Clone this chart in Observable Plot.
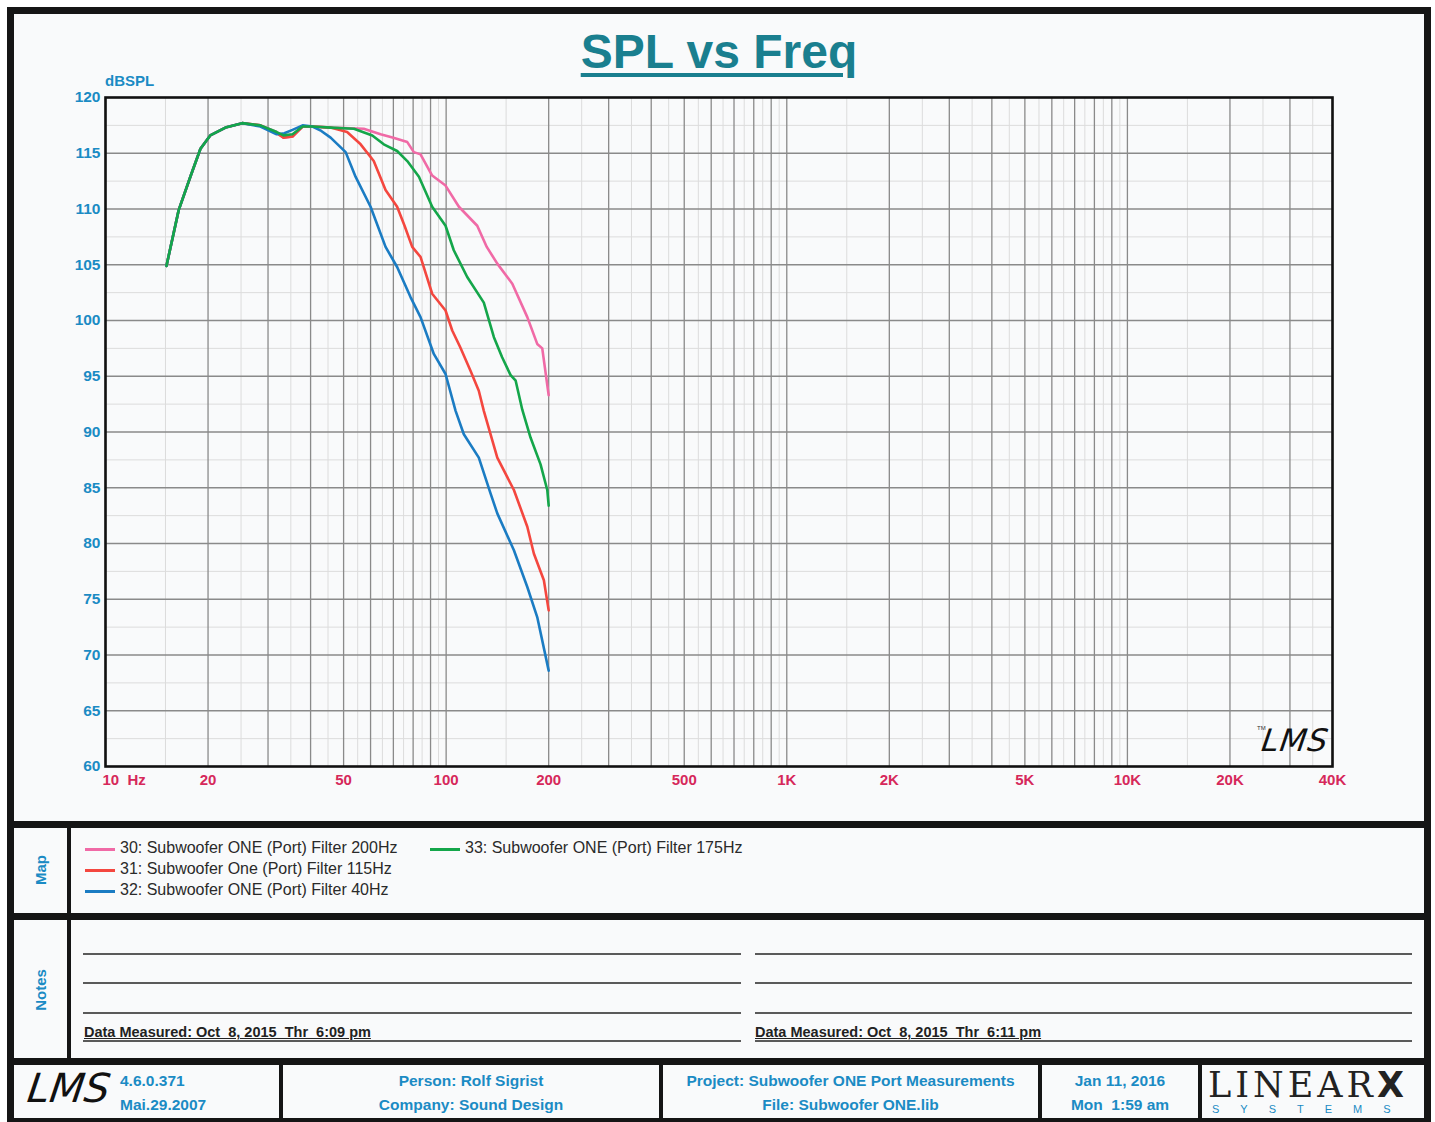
<!DOCTYPE html>
<html>
<head>
<meta charset="utf-8">
<script src="https://cdn.jsdelivr.net/npm/d3@7"></script>
<script src="https://cdn.jsdelivr.net/npm/@observablehq/plot@0.6"></script>
<style>
  html, body { margin:0; padding:0; background:#ffffff; }
  #page { position:relative; width:1435px; height:1122px; overflow:hidden; font-family: Arial, "Liberation Sans", sans-serif; background:#fff; }
  .abs { position:absolute; }
  .bar { position:absolute; background:#151515; }
  .blue { color:#1b8bc4; font-weight:bold; }
  #chart { position:absolute; left:0; top:0; }
  .leg { position:absolute; font-size:16px; color:#2a2a2a; white-space:nowrap; }
  .sw { position:absolute; height:3px; width:30px; }
  .nline { position:absolute; height:1.5px; background:#5a5a5a; }
  .meas { position:absolute; font-size:14.5px; font-weight:bold; color:#222; text-decoration:underline; white-space:nowrap; }
  .foot { position:absolute; font-size:15.5px; font-weight:bold; color:#1b8bc4; text-align:center; white-space:nowrap; }
</style>
</head>
<body>
<div id="page"></div>
<script>
// ---------------- data ----------------
const seriesNames = [
  "30: Subwoofer ONE (Port) Filter 200Hz",
  "31: Subwoofer One (Port) Filter 115Hz",
  "32: Subwoofer ONE (Port) Filter 40Hz",
  "33: Subwoofer ONE (Port) Filter 175Hz"
];
const seriesColors = ["#f06aa6", "#f4473f", "#1b7cc3", "#14a64a"];

const pinkF  = [15.1,16.4,17.8,19.0,20.3,22.5,25.2,28.5,31.8,33.3,35.4,37.9,40.5,45.8,57.3,64.2,70.0,76.9,80.4,84.1,91.0,99.6,109.0,123.4,131.6,141.3,156.4,173.1,185.1,191.5,200];
const pinkDb = [104.9,109.9,113.0,115.4,116.6,117.3,117.7,117.5,116.9,116.4,116.5,117.4,117.4,117.3,117.2,116.7,116.4,116.0,115.1,114.9,113.0,112.1,110.2,108.5,106.6,105.1,103.3,100.3,97.9,97.5,93.3];

const redF  = [15.1,16.4,17.8,19.0,20.3,22.5,25.2,28.5,31.8,33.3,35.4,37.9,40.5,45.8,51.2,56.1,61.3,66.4,71.8,75.5,79.5,84.1,91.0,99.6,104.2,110.0,117.9,124.7,129.0,141.3,158.1,173.1,180.9,193.6,200];
const redDb = [104.9,109.9,113.0,115.4,116.6,117.3,117.7,117.5,116.8,116.4,116.5,117.4,117.4,117.3,116.9,115.8,114.3,111.7,110.2,108.5,106.6,105.7,102.4,100.9,99.1,97.6,95.5,93.7,91.9,87.7,84.8,81.5,79.1,76.7,74.0];

const blueF  = [15.1,16.4,17.8,19.0,20.3,22.5,25.2,28.5,31.8,33.5,35.4,37.9,40.5,43.0,45.8,50.7,54.2,60.0,66.4,71.8,78.6,84.1,92.0,99.6,106.6,112.7,124.7,135.0,141.3,158.1,173.1,185.1,200];
const blueDb = [104.9,109.9,113.0,115.4,116.6,117.3,117.7,117.4,116.7,116.8,117.1,117.5,117.4,117.0,116.4,115.1,112.9,110.2,106.6,104.8,102.1,100.3,97.0,95.2,91.9,89.8,87.7,84.5,82.7,79.4,76.1,73.4,68.6];

const greenF  = [15.1,16.4,17.8,19.0,20.3,22.5,25.2,28.5,31.8,33.3,35.4,37.9,40.5,45.8,53.6,60.7,65.6,71.8,76.9,83.2,91.0,99.6,105.3,115.3,129.0,138.1,146.0,154.6,160.0,167.3,176.9,189.3,198.1,200];
const greenDb = [104.9,109.9,113.0,115.4,116.6,117.3,117.7,117.5,116.9,116.6,116.7,117.4,117.4,117.3,117.2,116.6,115.8,115.2,114.3,112.9,110.2,108.5,106.3,103.9,101.6,98.5,96.7,95.1,94.6,92.0,89.5,87.1,84.8,83.4];

const xTicks  = [10,20,50,100,200,500,1000,2000,5000,10000,20000,40000];
const xLabels = ["10\u00a0\u00a0Hz","20","50","100","200","500","1K","2K","5K","10K","20K","40K"];
const yTicks  = [60,65,70,75,80,85,90,95,100,105,110,115,120];

// ---------------- build rows ----------------
const freqSets = [pinkF, redF, blueF, greenF];
const dbSets = [pinkDb, redDb, blueDb, greenDb];
const rows = [];
seriesNames.forEach((s, i) => freqSets[i].forEach((f, j) => rows.push({series: s, f, db: dbSets[i][j]})));

// grid positions (log grid: k*10^n and (k+.5)*10^n)
const majorF = [], minorF = [];
for (const d of [10,100,1000,10000]) {
  for (let k = 1; k <= 9; k++) {
    if (k*d <= 40000) majorF.push(k*d);
    if ((k+0.5)*d < 40000) minorF.push((k+0.5)*d);
  }
}
const majorDb = d3.range(65, 120, 5);
const minorDb = d3.range(62.5, 120, 5);

const xTickRows = xTicks.map((t, i) => ({f: t, label: xLabels[i]}));

const chart = Plot.plot({
  width: 1435, height: 800,
  marginLeft: 105, marginRight: 103, marginTop: 97, marginBottom: 34,
  x: {type: "log", domain: [10, 40000], axis: null},
  y: {domain: [60, 120], axis: null},
  color: {domain: seriesNames, range: seriesColors},
  style: {background: "transparent", fontFamily: "Arial, 'Liberation Sans', sans-serif"},
  marks: [
    Plot.ruleX(minorF, {stroke: "#dcdcdc", strokeWidth: 1}),
    Plot.ruleY(minorDb, {stroke: "#dcdcdc", strokeWidth: 1}),
    Plot.ruleX(majorF, {stroke: "#8a8a8a", strokeWidth: 1.3}),
    Plot.ruleY(majorDb, {stroke: "#8a8a8a", strokeWidth: 1.3}),
    Plot.line(rows, {x: "f", y: "db", z: "series", stroke: "series", strokeWidth: 2.6, curve: "linear"}),
    Plot.frame({stroke: "#111", strokeWidth: 2.6}),
    Plot.axisY({ticks: yTicks, tickSize: 0, tickPadding: 5, color: "#1b8bc4", fontSize: 15.5, fontWeight: "bold", label: null}),
    Plot.text(xTickRows.slice(1), {x: "f", text: "label", frameAnchor: "bottom", dy: 18, fill: "#d6285a", fontSize: 15, fontWeight: "bold"}),
    Plot.text(xTickRows.slice(0, 1), {x: "f", text: "label", frameAnchor: "bottom", dy: 18, dx: -3, textAnchor: "start", fill: "#d6285a", fontSize: 15, fontWeight: "bold"})
  ]
});
chart.id = "chart";

const page = document.getElementById("page");
function add(html) { page.insertAdjacentHTML("beforeend", html); }

// inner paper background
add(`<div class="abs" style="left:10px;top:10px;width:1418px;height:1112px;background:#f9fafb"></div>`);
page.appendChild(chart);

// title and y label
add(`<div class="abs" style="left:0;width:1435px;top:24px;text-align:center;">
  <span style="font-size:48px;font-weight:bold;color:#1a7f8f;padding-left:3px;text-decoration:underline;text-decoration-thickness:4px;text-underline-offset:5px;">SPL vs Freq</span></div>`);
add(`<div class="abs blue" style="left:105px;top:72px;font-size:15px;">dBSPL</div>`);
// LMS mark in plot
add(`<div class="abs" style="left:1262px;top:722px;font-size:31px;font-style:italic;color:#111;font-family:'DejaVu Sans';letter-spacing:1px;transform:skewX(-8deg)">LMS</div>`);
add(`<div class="abs" style="left:1257px;top:725px;font-size:6px;color:#333">TM</div>`);

// outer frame & dividers
add(`<div class="bar" style="left:7px;top:7px;width:1424px;height:7px"></div>`);
add(`<div class="bar" style="left:7px;top:7px;width:7px;height:1115px"></div>`);
add(`<div class="bar" style="left:1424px;top:7px;width:7px;height:1115px"></div>`);
add(`<div class="bar" style="left:7px;top:821px;width:1424px;height:7px"></div>`);
add(`<div class="bar" style="left:7px;top:913px;width:1424px;height:7px"></div>`);
add(`<div class="bar" style="left:7px;top:1058px;width:1424px;height:7px"></div>`);
add(`<div class="bar" style="left:7px;top:1118px;width:1424px;height:4px"></div>`);
add(`<div class="bar" style="left:67px;top:821px;width:4px;height:240px"></div>`);
[279, 659, 1038, 1198].forEach(x => add(`<div class="bar" style="left:${x}px;top:1062px;width:4px;height:60px"></div>`));

// side labels
add(`<div class="abs blue" style="left:40px;top:870px;font-size:15px;transform:translate(-50%,-50%) rotate(-90deg)">Map</div>`);
add(`<div class="abs blue" style="left:40px;top:990px;font-size:15px;transform:translate(-50%,-50%) rotate(-90deg)">Notes</div>`);

// legend
const legPos = [[85, 849], [85, 870], [85, 891], [430, 849]];
seriesNames.forEach((s, i) => {
  const [x, y] = legPos[i];
  add(`<div class="sw" style="left:${x}px;top:${y-1}px;background:${seriesColors[i]}"></div>`);
  add(`<div class="leg" style="left:${x+35}px;top:${y-10}px">${s}</div>`);
});

// notes lines
[953, 982, 1012, 1040].forEach(y => {
  add(`<div class="nline" style="left:83px;top:${y}px;width:658px"></div>`);
  add(`<div class="nline" style="left:755px;top:${y}px;width:657px"></div>`);
});
add(`<div class="meas" style="left:84px;top:1024px;background:#f9fafb;padding-right:2px">Data Measured: Oct&nbsp;&nbsp;8,&nbsp;2015&nbsp;&nbsp;Thr&nbsp;&nbsp;6:09 pm</div>`);
add(`<div class="meas" style="left:755px;top:1024px;background:#f9fafb;padding-right:2px">Data Measured: Oct&nbsp;&nbsp;8,&nbsp;2015&nbsp;&nbsp;Thr&nbsp;&nbsp;6:11 pm</div>`);

// footer
add(`<div class="abs" style="left:28px;top:1066px;font-size:40px;font-style:italic;color:#111;font-family:'DejaVu Sans';transform:skewX(-8deg);line-height:1.1">LMS</div>`);
add(`<div class="foot" style="left:120px;top:1072px;text-align:left">4.6.0.371</div>`);
add(`<div class="foot" style="left:120px;top:1096px;text-align:left">Mai.29.2007</div>`);
add(`<div class="foot" style="left:283px;width:376px;top:1072px">Person: Rolf Sigrist</div>`);
add(`<div class="foot" style="left:283px;width:376px;top:1096px">Company: Sound Design</div>`);
add(`<div class="foot" style="left:663px;width:375px;top:1072px">Project: Subwoofer ONE Port Measurements</div>`);
add(`<div class="foot" style="left:663px;width:375px;top:1096px">File: Subwoofer ONE.lib</div>`);
add(`<div class="foot" style="left:1042px;width:156px;top:1072px">Jan 11, 2016</div>`);
add(`<div class="foot" style="left:1042px;width:156px;top:1096px">Mon&nbsp;&nbsp;1:59 am</div>`);
add(`<div class="abs" style="left:1208px;top:1069px;font-size:35px;line-height:32px;font-family:'DejaVu Serif','Liberation Serif',serif;color:#222;letter-spacing:4px;white-space:nowrap">LINEAR<b style="font-family:'DejaVu Sans';font-weight:900">X</b></div>`);
add(`<div class="abs" style="left:1212px;top:1103px;font-size:11px;line-height:12px;color:#1b8bc4;letter-spacing:21px;white-space:nowrap">SYSTEMS</div>`);
</script>
</body>
</html>
